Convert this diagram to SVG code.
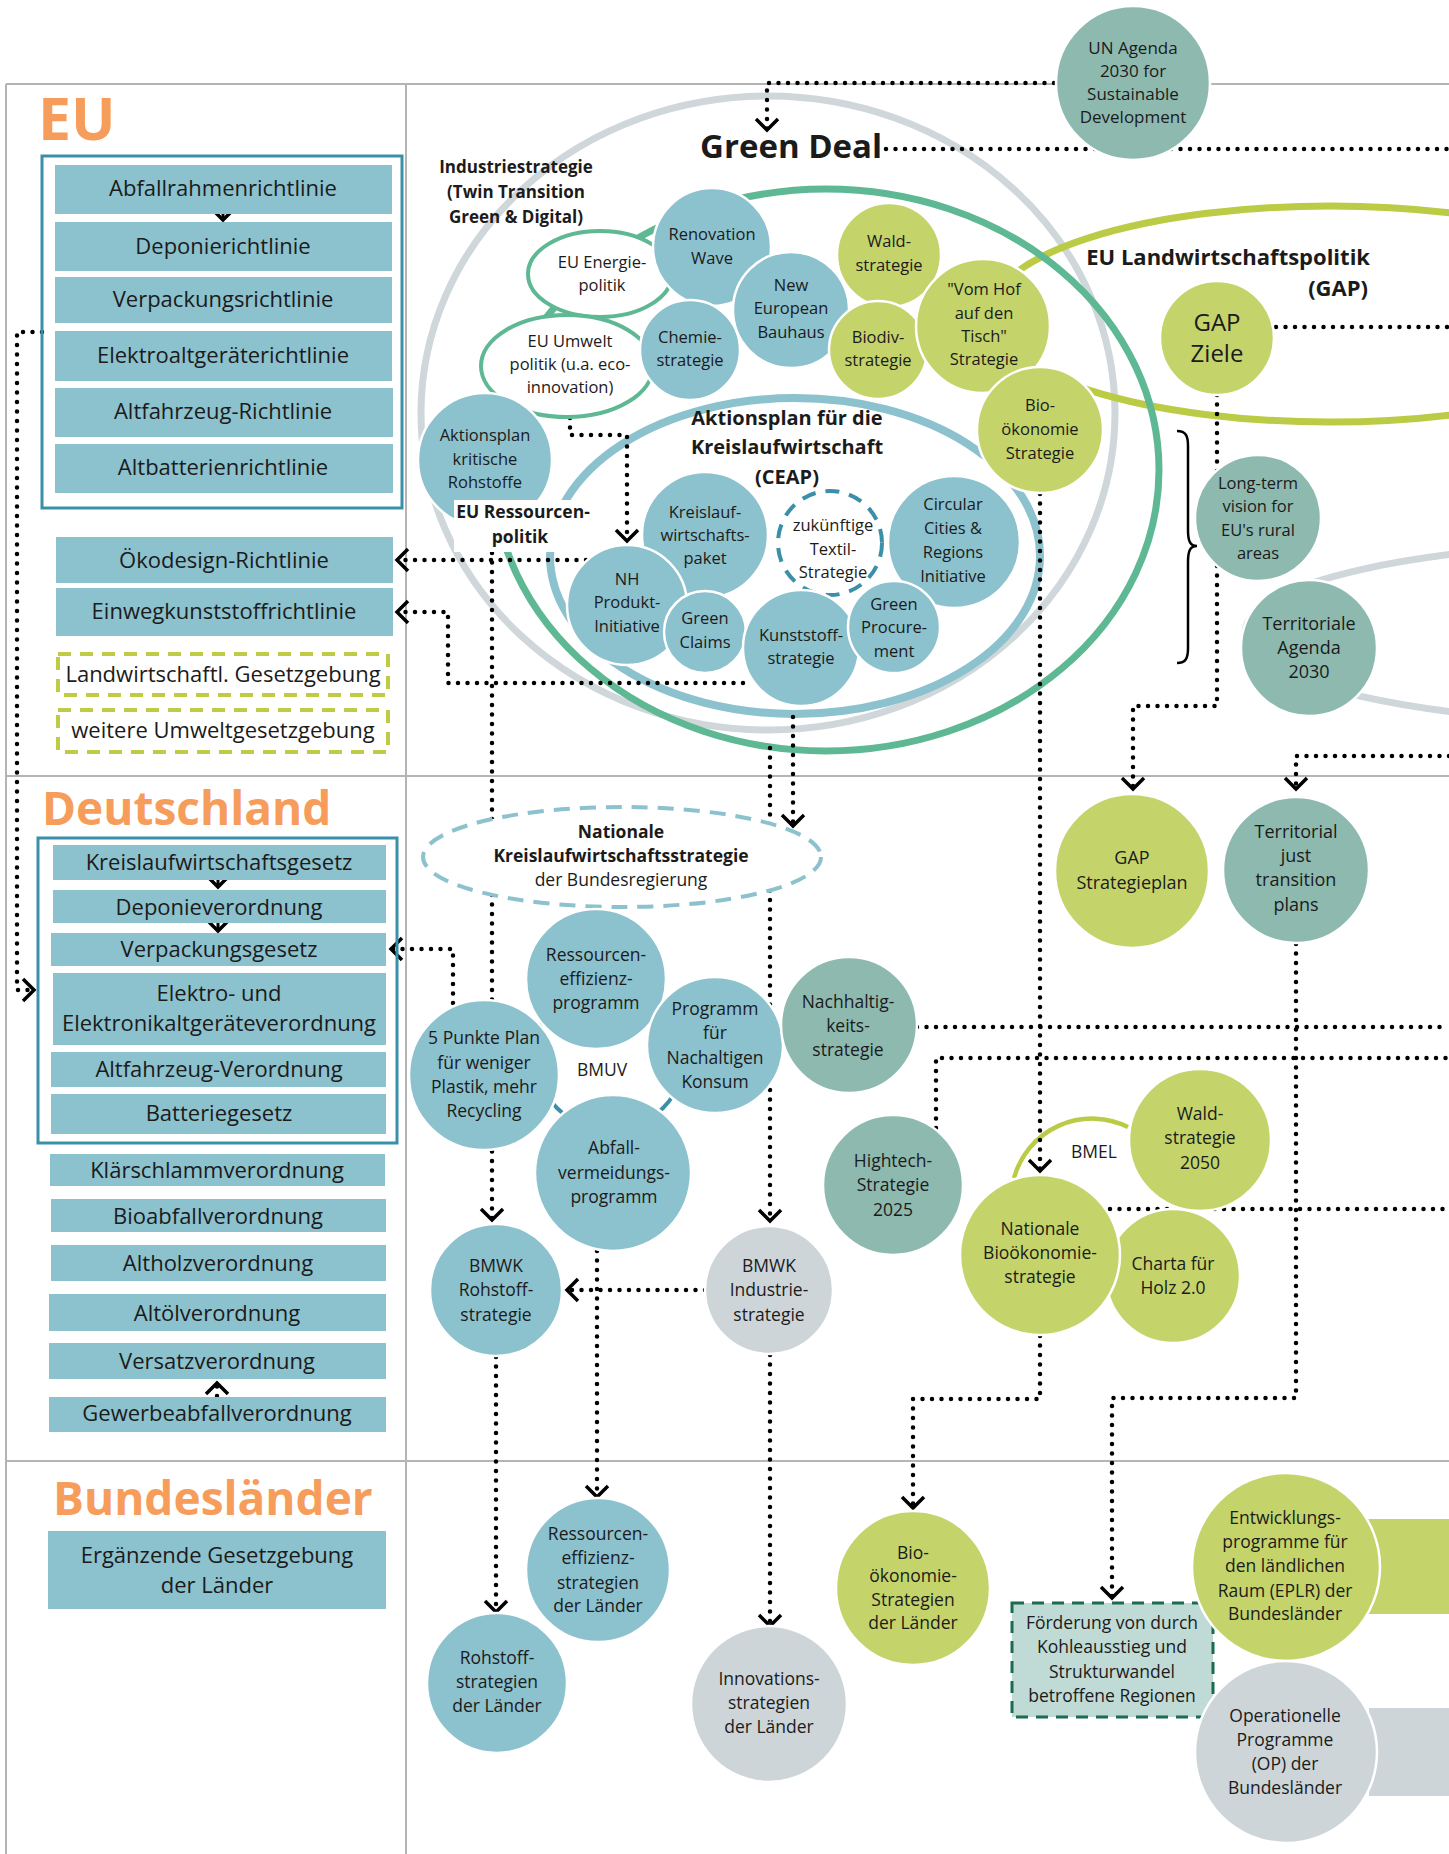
<svg xmlns="http://www.w3.org/2000/svg" width="1449" height="1854" viewBox="0 0 1449 1854">
<defs>
<style>
text{font-family:"Open Sans","Noto Sans","Liberation Sans",sans-serif;fill:#1b1b1b;text-anchor:middle}
.f16{font-size:16.5px}
.f17{font-size:17.5px}
.f22{font-size:22px}
.b{font-weight:700}
.title{font-weight:700;fill:#F79D5B;text-anchor:start}
.grid{stroke:#B4B4B4;stroke-width:2;fill:none}
.bx{fill:#8CC1CE}
.blue{fill:#8CC1CE;stroke:#fff;stroke-width:2.5}
.lime{fill:#C4D46A;stroke:#fff;stroke-width:2.5}
.sage{fill:#8EB9AF;stroke:#fff;stroke-width:2.5}
.gray{fill:#CDD5D8;stroke:#fff;stroke-width:2.5}
.dot{fill:none;stroke:#000;stroke-width:4.5;stroke-linecap:round;stroke-dasharray:0 9.5}
.stem{fill:none;stroke:#000;stroke-width:3}
.arr{marker-end:url(#chev)}
.ring{fill:none}
.gell{fill:#fff;stroke:#5DB893;stroke-width:4}
.ldash{fill:#fff;stroke:#BFCB45;stroke-width:4;stroke-dasharray:13 9}
</style>
<marker id="chev" viewBox="-15 -15 30 30" markerWidth="30" markerHeight="30" refX="0" refY="0" orient="auto" markerUnits="userSpaceOnUse">
<path d="M-11,-11 L0,0 L-11,11" fill="none" stroke="#000" stroke-width="3.5"/>
</marker>
</defs>
<rect x="0" y="0" width="1449" height="1854" fill="#fff"/>

<g id="grid">
<path class="grid" d="M6,84 H1449 M6,84 V1854 M406,84 V1854 M6,776 H1449 M6,1461 H1449"/>
</g>

<g id="rings">
<ellipse class="ring" cx="768" cy="413" rx="347" ry="317" stroke="#CFD7DA" stroke-width="7"/>
<ellipse class="ring" cx="1330" cy="314" rx="340" ry="108" stroke="#BCCB46" stroke-width="7"/>
<ellipse class="ring" cx="826" cy="470" rx="333" ry="281" stroke="#5DB893" stroke-width="7"/>
<ellipse class="ring" cx="795" cy="556" rx="245" ry="158" stroke="#8CC1CE" stroke-width="8"/>
<ellipse class="ring" cx="1645" cy="633" rx="400" ry="90" stroke="#CFD7DA" stroke-width="7"/>
<circle class="ring" cx="610" cy="1055" r="75" stroke="#3A90A9" stroke-width="4"/>
<path class="ring" d="M1014,1178 A81,81 0 0 1 1128,1127" stroke="#BCCB46" stroke-width="4.5"/>
</g>

<g id="connectors">
<path class="dot arr" d="M1054,83 H767 V130"/>
<path class="dot" d="M886,149 H1449"/>
<path class="dot" d="M1276,327 H1449"/>
<path class="dot arr" d="M1217,395 V706 H1133 V789"/>
<path class="dot arr" d="M1449,756 H1296 V789"/>
<path class="dot arr" d="M1040,494 V1171"/>
<path class="dot arr" d="M570,418 V435 H627 V541"/>
<path class="dot arr" d="M586,560 H397"/>
<path class="dot arr" d="M743,683 H448 V612 H397"/>
<path class="dot arr" d="M42,332 H17 V990 H34"/>
<path class="dot arr" d="M492,553 V1220"/>
<path class="dot arr" d="M770,748 V1221"/>
<path class="dot arr" d="M793,717 V826"/>
<path class="dot arr" d="M453,1003 V949 H391"/>
<path class="dot arr" d="M705,1290 H567"/>
<path class="dot arr" d="M597,1251 V1497"/>
<path class="dot arr" d="M496,1357 V1612"/>
<path class="dot arr" d="M770,1355 V1626"/>
<path class="dot arr" d="M1040,1336 V1399 H913 V1508"/>
<path class="dot arr" d="M1296,944 V1398 H1112 V1598"/>
<path class="dot" d="M917,1027 H1449"/>
<path class="dot" d="M936,1128 V1058 H1449"/>
<path class="dot" d="M1110,1209 H1449"/>
<path class="stem arr" d="M223,211 V220"/>
<path class="stem arr" d="M218,876 V887"/>
<path class="stem arr" d="M218,920 V931"/>
<path class="dot arr" d="M217,1396 V1383"/>
</g>

<g id="titles">
<text class="title" x="38" y="140" font-size="59">EU</text>
<text class="title" x="42" y="825" font-size="46">Deutschland</text>
<text class="title" x="53" y="1515" font-size="46">Bundesländer</text>
</g>

<g id="eu-box">
<rect x="42" y="156" width="360" height="352" fill="none" stroke="#3A90A9" stroke-width="3"/>
</g>
<g id="eu-abfallrahmen"><rect class="bx" x="55" y="165" width="337" height="49"/><text class="f22" x="223" y="196">Abfallrahmenrichtlinie</text></g>
<g id="eu-deponie"><rect class="bx" x="55" y="222" width="337" height="49"/><text class="f22" x="223" y="254">Deponierichtlinie</text></g>
<g id="eu-verpackung"><rect class="bx" x="55" y="277" width="337" height="46"/><text class="f22" x="223" y="307">Verpackungsrichtlinie</text></g>
<g id="eu-elektro"><rect class="bx" x="55" y="331" width="337" height="50"/><text class="f22" x="223" y="363">Elektroaltgeräterichtlinie</text></g>
<g id="eu-altfahrzeug"><rect class="bx" x="55" y="388" width="338" height="49"/><text class="f22" x="223" y="419">Altfahrzeug-Richtlinie</text></g>
<g id="eu-altbatterie"><rect class="bx" x="55" y="444" width="338" height="49"/><text class="f22" x="223" y="475">Altbatterienrichtlinie</text></g>
<g id="eu-oekodesign"><rect class="bx" x="56" y="537" width="337" height="46"/><text class="f22" x="224" y="568">Ökodesign-Richtlinie</text></g>
<g id="eu-einweg"><rect class="bx" x="56" y="588" width="337" height="48"/><text class="f22" x="224" y="619">Einwegkunststoffrichtlinie</text></g>
<g id="eu-landw"><rect class="ldash" x="58" y="654" width="330" height="41"/><text class="f22" x="223" y="682">Landwirtschaftl. Gesetzgebung</text></g>
<g id="eu-weitere"><rect class="ldash" x="58" y="710" width="330" height="42"/><text class="f22" x="223" y="738">weitere Umweltgesetzgebung</text></g>

<g id="de-box">
<rect x="38" y="838" width="359" height="305" fill="none" stroke="#3A90A9" stroke-width="3"/>
</g>
<g id="de-krwg"><rect class="bx" x="53" y="845" width="333" height="35"/><text class="f22" x="219" y="870">Kreislaufwirtschaftsgesetz</text></g>
<g id="de-depv"><rect class="bx" x="53" y="890" width="333" height="33"/><text class="f22" x="219" y="915">Deponieverordnung</text></g>
<g id="de-verpackg"><rect class="bx" x="51" y="933" width="335" height="33"/><text class="f22" x="219" y="957">Verpackungsgesetz</text></g>
<g id="de-elektro"><rect class="bx" x="53" y="973" width="333" height="72"/><text class="f22" x="219" y="1001">Elektro- und</text><text class="f22" x="219" y="1031">Elektronikaltgeräteverordnung</text></g>
<g id="de-altfahrzeug"><rect class="bx" x="51" y="1052" width="335" height="35"/><text class="f22" x="219" y="1077">Altfahrzeug-Verordnung</text></g>
<g id="de-batterie"><rect class="bx" x="51" y="1094" width="335" height="40"/><text class="f22" x="219" y="1121">Batteriegesetz</text></g>
<g id="de-klaer"><rect class="bx" x="50" y="1154" width="335" height="32"/><text class="f22" x="217" y="1178">Klärschlammverordnung</text></g>
<g id="de-bioabfall"><rect class="bx" x="51" y="1199" width="335" height="33"/><text class="f22" x="218" y="1224">Bioabfallverordnung</text></g>
<g id="de-altholz"><rect class="bx" x="51" y="1245" width="335" height="36"/><text class="f22" x="218" y="1271">Altholzverordnung</text></g>
<g id="de-altoel"><rect class="bx" x="49" y="1294" width="337" height="37"/><text class="f22" x="217" y="1321">Altölverordnung</text></g>
<g id="de-versatz"><rect class="bx" x="49" y="1343" width="337" height="36"/><text class="f22" x="217" y="1369">Versatzverordnung</text></g>
<g id="de-gewerbe"><rect class="bx" x="49" y="1397" width="337" height="35"/><text class="f22" x="217" y="1421">Gewerbeabfallverordnung</text></g>
<g id="bl-ergaenzend"><rect class="bx" x="48" y="1531" width="338" height="78"/><text class="f22" x="217" y="1563">Ergänzende Gesetzgebung</text><text class="f22" x="217" y="1593">der Länder</text></g>

<g id="un-agenda"><circle class="sage" cx="1133" cy="83" r="77"/>
<text font-size="17" x="1133" y="54">UN Agenda</text><text font-size="17" x="1133" y="77">2030 for</text><text font-size="17" x="1133" y="100">Sustainable</text><text font-size="17" x="1133" y="123">Development</text></g>

<g id="green-deal"><text class="b" font-size="33" x="700" y="158" style="text-anchor:start">Green Deal</text></g>
<g id="industriestrategie"><text class="b" font-size="17" x="516" y="173">Industriestrategie</text><text class="b" font-size="17" x="516" y="198">(Twin Transition</text><text class="b" font-size="17" x="516" y="223">Green &amp; Digital)</text></g>

<g id="eu-energie"><ellipse class="gell" cx="600" cy="274" rx="72" ry="43"/><text class="f16" x="602" y="268">EU Energie-</text><text class="f16" x="602" y="291">politik</text></g>
<g id="eu-umwelt"><ellipse class="gell" cx="567" cy="366" rx="86" ry="51"/><text class="f16" x="570" y="347">EU Umwelt</text><text class="f16" x="570" y="370">politik (u.a. eco-</text><text class="f16" x="570" y="393">innovation)</text></g>

<g id="renovation-wave"><circle class="blue" cx="712" cy="247" r="59"/><text class="f16" x="712" y="240">Renovation</text><text class="f16" x="712" y="264">Wave</text></g>
<g id="chemiestrategie"><circle class="blue" cx="690" cy="350" r="50"/><text class="f16" x="690" y="343">Chemie-</text><text class="f16" x="690" y="366">strategie</text></g>
<g id="new-european-bauhaus"><circle class="blue" cx="791" cy="310" r="58"/><text class="f16" x="791" y="291">New</text><text class="f16" x="791" y="314">European</text><text class="f16" x="791" y="338">Bauhaus</text></g>
<g id="waldstrategie"><circle class="lime" cx="889" cy="255" r="52"/><text class="f16" x="889" y="247">Wald-</text><text class="f16" x="889" y="271">strategie</text></g>
<g id="biodiv"><circle class="lime" cx="878" cy="350" r="49"/><text class="f16" x="878" y="343">Biodiv-</text><text class="f16" x="878" y="366">strategie</text></g>
<g id="vom-hof"><circle class="lime" cx="983" cy="326" r="67"/><text class="f16" x="984" y="295">"Vom Hof</text><text class="f16" x="984" y="319">auf den</text><text class="f16" x="984" y="342">Tisch"</text><text class="f16" x="984" y="365">Strategie</text></g>
<g id="biooekonomie-eu"><circle class="lime" cx="1040" cy="430" r="63"/><text class="f16" x="1040" y="411">Bio-</text><text class="f16" x="1040" y="435">ökonomie</text><text class="f16" x="1040" y="459">Strategie</text></g>

<g id="gap"><text class="b" font-size="22" x="1370" y="265" style="text-anchor:end">EU Landwirtschaftspolitik</text><text class="b" font-size="22" x="1368" y="296" style="text-anchor:end">(GAP)</text></g>
<g id="gap-ziele"><circle class="lime" cx="1217" cy="338" r="57"/><text font-size="24" x="1217" y="331">GAP</text><text font-size="24" x="1217" y="362">Ziele</text></g>

<g id="aktionsplan-rohstoffe"><circle class="blue" cx="485" cy="460" r="67"/><text class="f16" x="485" y="441">Aktionsplan</text><text class="f16" x="485" y="465">kritische</text><text class="f16" x="485" y="488">Rohstoffe</text></g>
<g id="eu-ressourcenpolitik"><rect x="454" y="500" width="142" height="52" fill="#fff"/><text class="b f17" x="523" y="518">EU Ressourcen-</text><text class="b f17" x="520" y="543">politik</text></g>

<g id="ceap"><text class="b" font-size="20" x="787" y="425">Aktionsplan für die</text><text class="b" font-size="20" x="787" y="454">Kreislaufwirtschaft</text><text class="b" font-size="20" x="787" y="484">(CEAP)</text></g>
<g id="circular-cities"><circle class="blue" cx="954" cy="542" r="66"/><text class="f16" x="953" y="510">Circular</text><text class="f16" x="953" y="534">Cities &amp;</text><text class="f16" x="953" y="558">Regions</text><text class="f16" x="953" y="582">Initiative</text></g>
<g id="kreislaufwirtschaftspaket"><circle class="blue" cx="705" cy="535" r="63"/><text class="f16" x="705" y="518">Kreislauf-</text><text class="f16" x="705" y="541">wirtschafts-</text><text class="f16" x="705" y="564">paket</text></g>
<g id="nh-produkt"><circle class="blue" cx="627" cy="605" r="60"/><text class="f16" x="627" y="585">NH</text><text class="f16" x="627" y="608">Produkt-</text><text class="f16" x="627" y="632">Initiative</text></g>
<g id="green-claims"><circle class="blue" cx="705" cy="632" r="41"/><text class="f16" x="705" y="624">Green</text><text class="f16" x="705" y="648">Claims</text></g>
<g id="textil"><circle cx="830" cy="543" r="52" fill="#fff" stroke="#3A90A9" stroke-width="4" stroke-dasharray="14 10"/><text class="f16" x="833" y="531">zukünftige</text><text class="f16" x="833" y="555">Textil-</text><text class="f16" x="833" y="578">Strategie</text></g>
<g id="kunststoff"><circle class="blue" cx="801" cy="648" r="58"/><text class="f16" x="801" y="641">Kunststoff-</text><text class="f16" x="801" y="664">strategie</text></g>
<g id="green-procurement"><circle class="blue" cx="894" cy="627" r="46"/><text class="f16" x="894" y="610">Green</text><text class="f16" x="894" y="633">Procure-</text><text class="f16" x="894" y="657">ment</text></g>

<g id="brace"><path d="M1177,431 C1186,431 1188,436 1188,446 L1188,530 C1188,541 1190,546 1197,546 C1190,546 1188,551 1188,562 L1188,648 C1188,658 1186,663 1177,663" fill="none" stroke="#000" stroke-width="2.5"/></g>
<g id="long-term"><circle class="sage" cx="1258" cy="518" r="63"/><text class="f16" x="1258" y="489">Long-term</text><text class="f16" x="1258" y="512">vision for</text><text class="f16" x="1258" y="536">EU's rural</text><text class="f16" x="1258" y="559">areas</text></g>
<g id="territoriale-agenda"><circle class="sage" cx="1309" cy="648" r="68"/><text font-size="18" x="1309" y="630">Territoriale</text><text font-size="18" x="1309" y="654">Agenda</text><text font-size="18" x="1309" y="678">2030</text></g>

<g id="gap-strategieplan"><circle class="lime" cx="1132" cy="871" r="77"/><text font-size="18" x="1132" y="864">GAP</text><text font-size="18" x="1132" y="889">Strategieplan</text></g>
<g id="territorial-just"><circle class="sage" cx="1296" cy="870" r="73"/><text font-size="18" x="1296" y="838">Territorial</text><text font-size="18" x="1296" y="862">just</text><text font-size="18" x="1296" y="886">transition</text><text font-size="18" x="1296" y="911">plans</text></g>

<g id="nationale-krw"><ellipse cx="622" cy="857" rx="199" ry="50" fill="#fff" stroke="#8CC1CE" stroke-width="4" stroke-dasharray="16 10"/><text class="b f17" x="621" y="838">Nationale</text><text class="b f17" x="621" y="862">Kreislaufwirtschaftsstrategie</text><text class="f17" x="621" y="886">der Bundesregierung</text></g>

<g id="ressourceneffizienzprogramm"><circle class="blue" cx="596" cy="979" r="70"/><text class="f17" x="596" y="961">Ressourcen-</text><text class="f17" x="596" y="985">effizienz-</text><text class="f17" x="596" y="1009">programm</text></g>
<g id="programm-konsum"><circle class="blue" cx="715" cy="1045" r="68"/><text class="f17" x="715" y="1015">Programm</text><text class="f17" x="715" y="1039">für</text><text class="f17" x="715" y="1064">Nachaltigen</text><text class="f17" x="715" y="1088">Konsum</text></g>
<g id="bmuv"><text class="f17" x="602" y="1076">BMUV</text></g>
<g id="abfallvermeidung"><circle class="blue" cx="613" cy="1173" r="78"/><text class="f17" x="614" y="1154">Abfall-</text><text class="f17" x="614" y="1179">vermeidungs-</text><text class="f17" x="614" y="1203">programm</text></g>
<g id="fuenf-punkte"><circle class="blue" cx="484" cy="1075" r="75"/><text class="f17" x="484" y="1044">5 Punkte Plan</text><text class="f17" x="484" y="1069">für weniger</text><text class="f17" x="484" y="1093">Plastik, mehr</text><text class="f17" x="484" y="1117">Recycling</text></g>
<g id="nachhaltigkeit"><circle class="sage" cx="849" cy="1025" r="68"/><text class="f17" x="848" y="1008">Nachhaltig-</text><text class="f17" x="848" y="1032">keits-</text><text class="f17" x="848" y="1056">strategie</text></g>
<g id="hightech"><circle class="sage" cx="893" cy="1185" r="70"/><text class="f17" x="893" y="1167">Hightech-</text><text class="f17" x="893" y="1191">Strategie</text><text class="f17" x="893" y="1216">2025</text></g>
<g id="bmel"><text class="f17" x="1094" y="1158">BMEL</text></g>
<g id="wald-2050"><circle class="lime" cx="1200" cy="1140" r="71"/><text class="f17" x="1200" y="1120">Wald-</text><text class="f17" x="1200" y="1144">strategie</text><text class="f17" x="1200" y="1169">2050</text></g>
<g id="charta-holz"><circle class="lime" cx="1173" cy="1276" r="67"/><text class="f17" x="1173" y="1270">Charta für</text><text class="f17" x="1173" y="1294">Holz 2.0</text></g>
<g id="nat-biooekonomie"><circle class="lime" cx="1040" cy="1255" r="80"/><text class="f17" x="1040" y="1235">Nationale</text><text class="f17" x="1040" y="1259">Bioökonomie-</text><text class="f17" x="1040" y="1283">strategie</text></g>
<g id="bmwk-rohstoff"><circle class="blue" cx="496" cy="1290" r="66"/><text class="f17" x="496" y="1272">BMWK</text><text class="f17" x="496" y="1296">Rohstoff-</text><text class="f17" x="496" y="1321">strategie</text></g>
<g id="bmwk-industrie"><circle class="gray" cx="769" cy="1290" r="64"/><text class="f17" x="769" y="1272">BMWK</text><text class="f17" x="769" y="1296">Industrie-</text><text class="f17" x="769" y="1321">strategie</text></g>

<g id="ressourcen-laender"><circle class="blue" cx="598" cy="1570" r="72"/><text class="f17" x="598" y="1540">Ressourcen-</text><text class="f17" x="598" y="1564">effizienz-</text><text class="f17" x="598" y="1589">strategien</text><text class="f17" x="598" y="1612">der Länder</text></g>
<g id="rohstoff-laender"><circle class="blue" cx="497" cy="1683" r="70"/><text class="f17" x="497" y="1664">Rohstoff-</text><text class="f17" x="497" y="1688">strategien</text><text class="f17" x="497" y="1712">der Länder</text></g>
<g id="innovation-laender"><circle class="gray" cx="769" cy="1704" r="78"/><text class="f17" x="769" y="1685">Innovations-</text><text class="f17" x="769" y="1709">strategien</text><text class="f17" x="769" y="1733">der Länder</text></g>
<g id="bio-laender"><circle class="lime" cx="913" cy="1588" r="77"/><text class="f17" x="913" y="1559">Bio-</text><text class="f17" x="913" y="1582">ökonomie-</text><text class="f17" x="913" y="1606">Strategien</text><text class="f17" x="913" y="1629">der Länder</text></g>
<g id="foerderung"><rect x="1012" y="1603" width="201" height="114" fill="#C0DAD5" stroke="#1B6B50" stroke-width="3" stroke-dasharray="12 8"/><text class="f17" x="1112" y="1629">Förderung von durch</text><text class="f17" x="1112" y="1653">Kohleausstieg und</text><text class="f17" x="1112" y="1678">Strukturwandel</text><text class="f17" x="1112" y="1702">betroffene Regionen</text></g>
<g id="eplr"><rect x="1366" y="1519" width="83" height="95" fill="#C4D46A"/><circle class="lime" cx="1286" cy="1567" r="94"/><text class="f17" x="1285" y="1524">Entwicklungs-</text><text class="f17" x="1285" y="1548">programme für</text><text class="f17" x="1285" y="1572">den ländlichen</text><text class="f17" x="1285" y="1597">Raum (EPLR) der</text><text class="f17" x="1285" y="1620">Bundesländer</text></g>
<g id="op"><rect x="1369" y="1708" width="80" height="88" fill="#CDD5D8"/><circle class="gray" cx="1286" cy="1752" r="91"/><text class="f17" x="1285" y="1722">Operationelle</text><text class="f17" x="1285" y="1746">Programme</text><text class="f17" x="1285" y="1770">(OP) der</text><text class="f17" x="1285" y="1794">Bundesländer</text></g>
</svg>
